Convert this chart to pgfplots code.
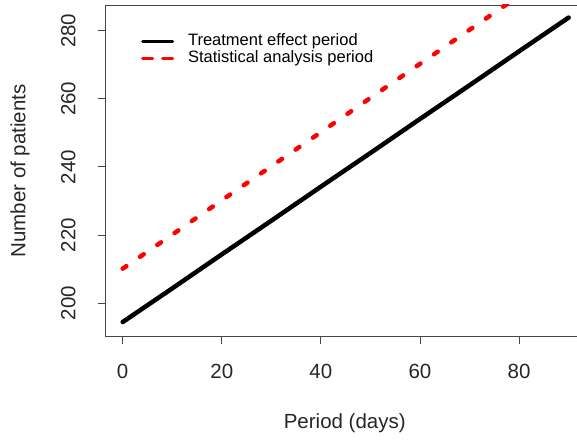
\documentclass[border=0pt]{standalone}
\usepackage{fontspec}
\setmainfont{Liberation Sans}
\usepackage{pgfplots}
\pgfplotsset{compat=1.18}

\definecolor{axisgray}{RGB}{70,70,70}
\definecolor{rred}{RGB}{255,0,0}

\begin{document}
\begin{tikzpicture}[x=1pt,y=1pt]
\path[use as bounding box] (-105,-102.3) rectangle (472,336.7);
\begin{axis}[
    at={(0,0)}, anchor=south west,
    scale only axis,
    width=472pt, height=331.7pt,
    xmin=-3.57, xmax=91.69,
    ymin=190.1, ymax=287.6,
    axis x line=box, axis y line=left,
    axis line style={axisgray, line width=0.9pt, -},
    tick pos=left,
    tick align=outside,
    major tick length=7pt,
    tick style={axisgray, line width=0.9pt},
    xtick={0,20,40,60,80},
    ytick={200,220,240,260,280},
    /pgf/number format/assume math mode=true,
    tick label style={font=\fontsize{20.5}{24}\selectfont, text=black!85},
    yticklabel style={rotate=90, anchor=south, yshift=19pt},
    xticklabel style={yshift=-17pt},
    xlabel={Period (days)},
    ylabel={Number of patients},
    label style={font=\fontsize{20.5}{24}\selectfont, text=black!85},
    xlabel style={at={(axis description cs:0.508,-0.260)}, anchor=center},
    ylabel style={at={(axis description cs:-0.180,0.5)}, anchor=center},
    legend style={draw=none, fill=none,
        at={(axis description cs:0.07,0.92)}, anchor=north west,
        font=\fontsize{16.5}{17}\selectfont,
        nodes={inner sep=0pt, text height=12pt, text depth=4pt},
        row sep=1pt,
        /tikz/every odd column/.append style={column sep=14pt}},
    legend cell align=left,
]
\addplot[black, line width=4.5pt, line cap=round,
    legend image code/.code={\draw[black, line width=2.8pt] (0pt,0pt) -- (30pt,0pt);}]
  coordinates {
    (0,194.4) (10,204.3) (20,214.3) (30,224.2) (40,234.2)
    (50,244.1) (60,254.1) (70,264.0) (80,274.0) (90,283.9)
};
\addlegendentry{Treatment effect period}
\addplot[rred, line width=4.5pt, line cap=round, dash pattern=on 4.5pt off 16.5pt,
    legend image code/.code={\draw[rred, line width=2.8pt, dash pattern=on 10pt off 10pt] (0pt,0pt) -- (30pt,0pt);}]
  coordinates {
    (0,210.1) (10,220.1) (20,230.2) (30,240.2) (40,250.2)
    (50,260.3) (60,270.3) (70,280.3) (80,290.3) (90,300.4)
};
\addlegendentry{Statistical analysis period}
\end{axis}
\end{tikzpicture}
\end{document}
